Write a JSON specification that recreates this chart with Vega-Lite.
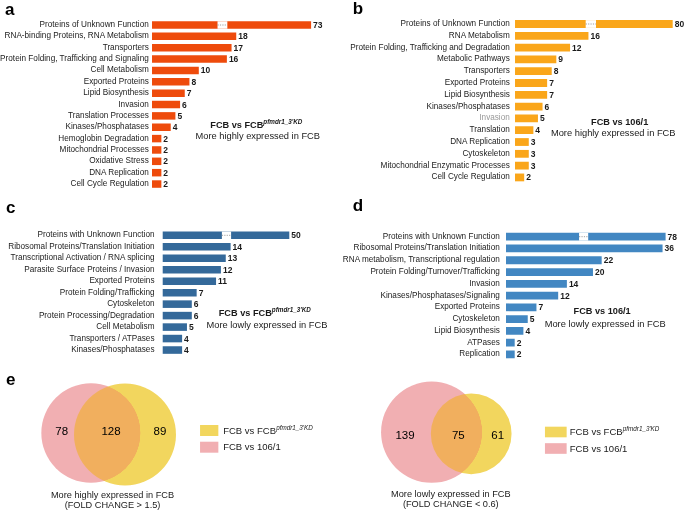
{
 "$schema": "https://vega.github.io/schema/vega-lite/v6.json",
 "autosize": {"type": "none"},
 "padding": {"left": 150, "top": 19.32, "right": 535, "bottom": 490.68},
 "background": "white",
 "config": {"font": "Liberation Sans", "view": {"stroke": null}, "text": {"color": "#1a1a1a"}},
 "columns": 2,
 "spacing": {"row": 39.25, "column": 192},
 "bounds": "flush",
 "align": "each",
 "concat": [
  {
   "width": 161.1, "height": 170.4,
   "title": {"text": "a", "anchor": "start", "frame": "group", "fontSize": 17, "fontWeight": "bold", "color": "#000", "offset": 0, "dx": -145, "dy": -0.5},
   "data": {"values": [
    {"category": "Proteins of Unknown Function", "count": 73, "break_from": 14.0, "break_to": 16.1},
    {"category": "RNA-binding Proteins, RNA Metabolism", "count": 18},
    {"category": "Transporters", "count": 17},
    {"category": "Protein Folding, Trafficking and Signaling", "count": 16},
    {"category": "Cell Metabolism", "count": 10},
    {"category": "Exported Proteins", "count": 8},
    {"category": "Lipid Biosynthesis", "count": 7},
    {"category": "Invasion", "count": 6},
    {"category": "Translation Processes", "count": 5},
    {"category": "Kinases/Phosphatases", "count": 4},
    {"category": "Hemoglobin Degradation", "count": 2},
    {"category": "Mitochondrial Processes", "count": 2},
    {"category": "Oxidative Stress", "count": 2},
    {"category": "DNA Replication", "count": 2},
    {"category": "Cell Cycle Regulation", "count": 2}
   ]},
   "encoding": {"y": {"field": "category", "type": "nominal",
     "scale": {"domain": ["Proteins of Unknown Function", "RNA-binding Proteins, RNA Metabolism", "Transporters", "Protein Folding, Trafficking and Signaling", "Cell Metabolism", "Exported Proteins", "Lipid Biosynthesis", "Invasion", "Translation Processes", "Kinases/Phosphatases", "Hemoglobin Degradation", "Mitochondrial Processes", "Oxidative Stress", "DNA Replication", "Cell Cycle Regulation"], "paddingInner": 0.34, "paddingOuter": 0.17},
     "axis": {"title": null, "ticks": false, "domain": false, "labelFontSize": 8.2, "labelColor": "#222", "labelPadding": 1.7, "labelLimit": 400}}},
   "layer": [
    {"mark": {"type": "bar", "color": "#EE4B0C"}, "encoding": {"x": {"field": "count", "type": "quantitative", "scale": {"domain": [-0.43, 34.0], "clamp": true, "nice": false, "zero": false}, "axis": null}}},
    {"transform": [{"filter": "isValid(datum.break_from)"}], "mark": {"type": "bar", "color": "white"}, "encoding": {"x": {"field": "break_from", "type": "quantitative"}, "x2": {"field": "break_to"}}},
    {"transform": [{"filter": "isValid(datum.break_from)"}], "mark": {"type": "rule", "color": "#888", "strokeDash": [1.2, 1.2], "strokeWidth": 0.8}, "encoding": {"x": {"field": "break_from", "type": "quantitative"}, "x2": {"field": "break_to"}}},
    {"mark": {"type": "text", "align": "left", "baseline": "middle", "dx": 2, "fontSize": 8.5, "fontWeight": "bold"}, "encoding": {"x": {"field": "count", "type": "quantitative"}, "text": {"field": "count"}}},
    {"data": {"values": [{"category": "Kinases/Phosphatases", "at": 23.8, "note": "FCB vs FCB", "sup": "pfmdr1_3'KD"}]},
     "layer": [
      {"mark": {"type": "text", "align": "right", "baseline": "middle", "dy": -2.2, "fontSize": 9.2, "fontWeight": "bold"}, "encoding": {"x": {"field": "at", "type": "quantitative"}, "text": {"field": "note"}}},
      {"mark": {"type": "text", "align": "left", "baseline": "middle", "dy": -5.2, "fontSize": 6.3, "fontWeight": "bold", "fontStyle": "italic"}, "encoding": {"x": {"field": "at", "type": "quantitative"}, "text": {"field": "sup"}}}
     ]},
    {"data": {"values": [{"category": "Hemoglobin Degradation", "at": 22.6, "note": "More highly expressed in FCB"}]},
     "mark": {"type": "text", "align": "center", "baseline": "middle", "dy": -2.6, "fontSize": 9.3}, "encoding": {"x": {"field": "at", "type": "quantitative"}, "text": {"field": "note"}}}
   ]
  },
  {
   "width": 168.7, "height": 162.8,
   "title": {"text": "b", "anchor": "start", "frame": "group", "fontSize": 17, "fontWeight": "bold", "color": "#000", "offset": 0, "dx": -151.3, "dy": -1},
   "data": {"values": [
    {"category": "Proteins of Unknown Function", "count": 80, "break_from": 15.4, "break_to": 17.65},
    {"category": "RNA Metabolism", "count": 16},
    {"category": "Protein Folding, Trafficking and Degradation", "count": 12},
    {"category": "Metabolic Pathways", "count": 9},
    {"category": "Transporters", "count": 8},
    {"category": "Exported Proteins", "count": 7},
    {"category": "Lipid Biosynthesis", "count": 7},
    {"category": "Kinases/Phosphatases", "count": 6},
    {"category": "Invasion", "count": 5},
    {"category": "Translation", "count": 4},
    {"category": "DNA Replication", "count": 3},
    {"category": "Cytoskeleton", "count": 3},
    {"category": "Mitochondrial Enzymatic Processes", "count": 3},
    {"category": "Cell Cycle Regulation", "count": 2}
   ]},
   "encoding": {"y": {"field": "category", "type": "nominal",
     "scale": {"domain": ["Proteins of Unknown Function", "RNA Metabolism", "Protein Folding, Trafficking and Degradation", "Metabolic Pathways", "Transporters", "Exported Proteins", "Lipid Biosynthesis", "Kinases/Phosphatases", "Invasion", "Translation", "DNA Replication", "Cytoskeleton", "Mitochondrial Enzymatic Processes", "Cell Cycle Regulation"], "paddingInner": 0.34, "paddingOuter": 0.067},
     "axis": {"title": null, "ticks": false, "domain": false, "labelFontSize": 8.2, "labelColor": {"condition": {"test": "datum.value === 'Invasion'", "value": "#999"}, "value": "#222"}, "labelPadding": -5.3, "labelLimit": 400}}},
   "layer": [
    {"mark": {"type": "bar", "color": "#FAA61A"}, "encoding": {"x": {"field": "count", "type": "quantitative", "scale": {"domain": [-2.4, 34.36], "clamp": true, "nice": false, "zero": false}, "axis": null}}},
    {"transform": [{"filter": "isValid(datum.break_from)"}], "mark": {"type": "bar", "color": "white"}, "encoding": {"x": {"field": "break_from", "type": "quantitative"}, "x2": {"field": "break_to"}}},
    {"transform": [{"filter": "isValid(datum.break_from)"}], "mark": {"type": "rule", "color": "#888", "strokeDash": [1.2, 1.2], "strokeWidth": 0.8}, "encoding": {"x": {"field": "break_from", "type": "quantitative"}, "x2": {"field": "break_to"}}},
    {"mark": {"type": "text", "align": "left", "baseline": "middle", "dx": 2, "fontSize": 8.5, "fontWeight": "bold"}, "encoding": {"x": {"field": "count", "type": "quantitative"}, "text": {"field": "count"}}},
    {"data": {"values": [{"category": "Invasion", "at": 22.8, "note": "FCB vs 106/1"}]},
     "mark": {"type": "text", "align": "center", "baseline": "middle", "dy": 3.3, "fontSize": 9.2, "fontWeight": "bold"}, "encoding": {"x": {"field": "at", "type": "quantitative"}, "text": {"field": "note"}}},
    {"data": {"values": [{"category": "Translation", "at": 21.4, "note": "More highly expressed in FCB"}]},
     "mark": {"type": "text", "align": "center", "baseline": "middle", "dy": 3.1, "fontSize": 9.3}, "encoding": {"x": {"field": "at", "type": "quantitative"}, "text": {"field": "note"}}}
   ]
  },
  {
   "width": 139.3, "height": 126.2,
   "title": {"text": "c", "anchor": "start", "frame": "group", "fontSize": 17, "fontWeight": "bold", "color": "#000", "offset": 0, "dx": -144, "dy": -12.7},
   "data": {"values": [
    {"category": "Proteins with Unknown Function", "count": 50, "break_from": 12.2, "break_to": 14.1},
    {"category": "Ribosomal Proteins/Translation Initiation", "count": 14},
    {"category": "Transcriptional Activation / RNA splicing", "count": 13},
    {"category": "Parasite Surface Proteins / Invasion", "count": 12},
    {"category": "Exported Proteins", "count": 11},
    {"category": "Protein Folding/Trafficking", "count": 7},
    {"category": "Cytoskeleton", "count": 6},
    {"category": "Protein Processing/Degradation", "count": 6},
    {"category": "Cell Metabolism", "count": 5},
    {"category": "Transporters / ATPases", "count": 4},
    {"category": "Kinases/Phosphatases", "count": 4}
   ]},
   "encoding": {"y": {"field": "category", "type": "nominal",
     "scale": {"domain": ["Proteins with Unknown Function", "Ribosomal Proteins/Translation Initiation", "Transcriptional Activation / RNA splicing", "Parasite Surface Proteins / Invasion", "Exported Proteins", "Protein Folding/Trafficking", "Cytoskeleton", "Protein Processing/Degradation", "Cell Metabolism", "Transporters / ATPases", "Kinases/Phosphatases"], "paddingInner": 0.34, "paddingOuter": 0.17},
     "axis": {"title": null, "ticks": false, "domain": false, "labelFontSize": 8.2, "labelColor": "#222", "labelPadding": -4, "labelLimit": 400}}},
   "layer": [
    {"mark": {"type": "bar", "color": "#34699A"}, "encoding": {"x": {"field": "count", "type": "quantitative", "scale": {"domain": [-2.62, 26.1], "clamp": true, "nice": false, "zero": false}, "axis": null}}},
    {"transform": [{"filter": "isValid(datum.break_from)"}], "mark": {"type": "bar", "color": "white"}, "encoding": {"x": {"field": "break_from", "type": "quantitative"}, "x2": {"field": "break_to"}}},
    {"transform": [{"filter": "isValid(datum.break_from)"}], "mark": {"type": "rule", "color": "#888", "strokeDash": [1.2, 1.2], "strokeWidth": 0.8}, "encoding": {"x": {"field": "break_from", "type": "quantitative"}, "x2": {"field": "break_to"}}},
    {"mark": {"type": "text", "align": "left", "baseline": "middle", "dx": 2, "fontSize": 8.5, "fontWeight": "bold"}, "encoding": {"x": {"field": "count", "type": "quantitative"}, "text": {"field": "count"}}},
    {"data": {"values": [{"category": "Protein Processing/Degradation", "at": 22.5, "note": "FCB vs FCB", "sup": "pfmdr1_3'KD"}]},
     "layer": [
      {"mark": {"type": "text", "align": "right", "baseline": "middle", "dy": -2.3, "fontSize": 9.2, "fontWeight": "bold"}, "encoding": {"x": {"field": "at", "type": "quantitative"}, "text": {"field": "note"}}},
      {"mark": {"type": "text", "align": "left", "baseline": "middle", "dy": -5.3, "fontSize": 6.3, "fontWeight": "bold", "fontStyle": "italic"}, "encoding": {"x": {"field": "at", "type": "quantitative"}, "text": {"field": "sup"}}}
     ]},
    {"data": {"values": [{"category": "Cell Metabolism", "at": 21.5, "note": "More lowly expressed in FCB"}]},
     "mark": {"type": "text", "align": "center", "baseline": "middle", "dy": -1.8, "fontSize": 9.3}, "encoding": {"x": {"field": "at", "type": "quantitative"}, "text": {"field": "note"}}}
   ]
  },
  {
   "width": 161.6, "height": 131.96,
   "title": {"text": "d", "anchor": "start", "frame": "group", "fontSize": 17, "fontWeight": "bold", "color": "#000", "offset": 0, "dx": -151.3, "dy": -15},
   "data": {"values": [
    {"category": "Proteins with Unknown Function", "count": 78, "break_from": 16.8, "break_to": 18.9},
    {"category": "Ribosomal Proteins/Translation Initiation", "count": 36},
    {"category": "RNA metabolism, Transcriptional regulation", "count": 22},
    {"category": "Protein Folding/Turnover/Trafficking", "count": 20},
    {"category": "Invasion", "count": 14},
    {"category": "Kinases/Phosphatases/Signaling", "count": 12},
    {"category": "Exported Proteins", "count": 7},
    {"category": "Cytoskeleton", "count": 5},
    {"category": "Lipid Biosynthesis", "count": 4},
    {"category": "ATPases", "count": 2},
    {"category": "Replication", "count": 2}
   ]},
   "encoding": {"y": {"field": "category", "type": "nominal",
     "scale": {"domain": ["Proteins with Unknown Function", "Ribosomal Proteins/Translation Initiation", "RNA metabolism, Transcriptional regulation", "Protein Folding/Turnover/Trafficking", "Invasion", "Kinases/Phosphatases/Signaling", "Exported Proteins", "Cytoskeleton", "Lipid Biosynthesis", "ATPases", "Replication"], "paddingInner": 0.34, "paddingOuter": 0.276},
     "axis": {"title": null, "ticks": false, "domain": false, "labelFontSize": 8.2, "labelColor": "#222", "labelPadding": 4.7, "labelLimit": 400}}},
   "layer": [
    {"mark": {"type": "bar", "color": "#4287C2"}, "encoding": {"x": {"field": "count", "type": "quantitative", "scale": {"domain": [-0.46, 36.7], "clamp": true, "nice": false, "zero": false}, "axis": null}}},
    {"transform": [{"filter": "isValid(datum.break_from)"}], "mark": {"type": "bar", "color": "white"}, "encoding": {"x": {"field": "break_from", "type": "quantitative"}, "x2": {"field": "break_to"}}},
    {"transform": [{"filter": "isValid(datum.break_from)"}], "mark": {"type": "rule", "color": "#888", "strokeDash": [1.2, 1.2], "strokeWidth": 0.8}, "encoding": {"x": {"field": "break_from", "type": "quantitative"}, "x2": {"field": "break_to"}}},
    {"mark": {"type": "text", "align": "left", "baseline": "middle", "dx": 2, "fontSize": 8.5, "fontWeight": "bold"}, "encoding": {"x": {"field": "count", "type": "quantitative"}, "text": {"field": "count"}}},
    {"data": {"values": [{"category": "Exported Proteins", "at": 22.1, "note": "FCB vs 106/1"}]},
     "mark": {"type": "text", "align": "center", "baseline": "middle", "dy": 3.2, "fontSize": 9.2, "fontWeight": "bold"}, "encoding": {"x": {"field": "at", "type": "quantitative"}, "text": {"field": "note"}}},
    {"data": {"values": [{"category": "Cytoskeleton", "at": 22.8, "note": "More lowly expressed in FCB"}]},
     "mark": {"type": "text", "align": "center", "baseline": "middle", "dy": 4.7, "fontSize": 9.3}, "encoding": {"x": {"field": "at", "type": "quantitative"}, "text": {"field": "note"}}}
   ]
  },
  {
   "width": 150, "height": 109,
   "layer": [
    {"data": {"values": [
      {"set": "FCB vs 106/1", "total": 206, "cx": -1.7, "cy": 0.0},
      {"set": "FCB vs FCB pfmdr1_3'KD", "total": 217, "cx": 1.7, "cy": -0.15}
     ]},
     "mark": {"type": "point", "shape": "circle", "filled": true, "opacity": 1, "blend": "darken", "strokeWidth": 0},
     "encoding": {
      "x": {"field": "cx", "type": "quantitative", "scale": {"domain": [4.2, 19.2], "nice": false, "zero": false}, "axis": null},
      "y": {"field": "cy", "type": "quantitative", "scale": {"domain": [-7.682, 3.218], "nice": false, "zero": false}, "axis": null},
      "size": {"field": "total", "type": "quantitative", "scale": {"domain": [0, 217], "range": [0, 10400]}, "legend": null},
      "color": {"field": "set", "type": "nominal", "scale": {"domain": ["FCB vs FCB pfmdr1_3'KD", "FCB vs 106/1"], "range": ["#F2D65E", "#F1AFB2"]}, "legend": null}
     }},
    {"data": {"values": [{"panel": "e", "px": -10.2, "py": 4.8}]},
     "mark": {"type": "text", "fontSize": 17, "fontWeight": "bold", "align": "left", "baseline": "alphabetic", "color": "#000"},
     "encoding": {"x": {"field": "px", "type": "quantitative"}, "y": {"field": "py", "type": "quantitative"}, "text": {"field": "panel"}}},
    {"data": {"values": [{"count": 78, "rx": -4.63, "ry": 0.15}, {"count": 128, "rx": 0.3, "ry": 0.15}, {"count": 89, "rx": 5.2, "ry": 0.15}]},
     "mark": {"type": "text", "fontSize": 11.5, "align": "center", "baseline": "middle", "color": "#000"},
     "encoding": {"x": {"field": "rx", "type": "quantitative"}, "y": {"field": "ry", "type": "quantitative"}, "text": {"field": "count"}}},
    {"data": {"values": [{"line": "More highly expressed in FCB", "tx": 0.45, "ty": -6.15}, {"line": "(FOLD CHANGE > 1.5)", "tx": 0.45, "ty": -7.15}]},
     "mark": {"type": "text", "fontSize": 9.2, "align": "center", "baseline": "middle"},
     "encoding": {"x": {"field": "tx", "type": "quantitative"}, "y": {"field": "ty", "type": "quantitative"}, "text": {"field": "line"}}},
    {"data": {"values": [
      {"set": "FCB vs FCB pfmdr1_3'KD", "label": "FCB vs FCB", "sup": "pfmdr1_3'KD", "lx": 10.12, "ly": 0.25},
      {"set": "FCB vs 106/1", "label": "FCB vs 106/1", "sup": "", "lx": 10.12, "ly": -1.42}
     ]},
     "layer": [
      {"mark": {"type": "point", "shape": "M-1,-0.6H1V0.6H-1Z", "filled": true, "opacity": 1, "size": 335, "strokeWidth": 0},
       "encoding": {"x": {"field": "lx", "type": "quantitative"}, "y": {"field": "ly", "type": "quantitative"}, "color": {"field": "set", "type": "nominal", "legend": null}}},
      {"mark": {"type": "text", "align": "left", "baseline": "middle", "dx": 14, "fontSize": 9.5},
       "encoding": {"x": {"field": "lx", "type": "quantitative"}, "y": {"field": "ly", "type": "quantitative"}, "text": {"field": "label"}}},
      {"mark": {"type": "text", "align": "left", "baseline": "middle", "dx": 67, "dy": -3, "fontSize": 6.3, "fontStyle": "italic"},
       "encoding": {"x": {"field": "lx", "type": "quantitative"}, "y": {"field": "ly", "type": "quantitative"}, "text": {"field": "sup"}}}
     ]}
   ]
  },
  {
   "width": 150, "height": 109,
   "layer": [
    {"data": {"values": [
      {"set": "FCB vs 106/1", "total": 214, "cx": -1.93, "cy": 0.08},
      {"set": "FCB vs FCB pfmdr1_3'KD", "total": 136, "cx": 2.02, "cy": -0.08}
     ]},
     "mark": {"type": "point", "shape": "circle", "filled": true, "opacity": 1, "blend": "darken", "strokeWidth": 0},
     "encoding": {
      "x": {"field": "cx", "type": "quantitative", "scale": {"domain": [5.3, 20.3], "nice": false, "zero": false}, "axis": null},
      "y": {"field": "cy", "type": "quantitative", "scale": {"domain": [-7.682, 3.218], "nice": false, "zero": false}, "axis": null},
      "size": {"field": "total", "type": "quantitative", "scale": {"domain": [0, 217], "range": [0, 10400]}, "legend": null},
      "color": {"field": "set", "type": "nominal", "scale": {"domain": ["FCB vs FCB pfmdr1_3'KD", "FCB vs 106/1"], "range": ["#F2D65E", "#F1AFB2"]}, "legend": null}
     }},
    {"data": {"values": [{"count": 139, "rx": -4.6, "ry": -0.3}, {"count": 75, "rx": 0.73, "ry": -0.3}, {"count": 61, "rx": 4.67, "ry": -0.3}]},
     "mark": {"type": "text", "fontSize": 11.5, "align": "center", "baseline": "middle", "color": "#000"},
     "encoding": {"x": {"field": "rx", "type": "quantitative"}, "y": {"field": "ry", "type": "quantitative"}, "text": {"field": "count"}}},
    {"data": {"values": [{"line": "More lowly expressed in FCB", "tx": -0.02, "ty": -6.1}, {"line": "(FOLD CHANGE < 0.6)", "tx": -0.02, "ty": -7.1}]},
     "mark": {"type": "text", "fontSize": 9.2, "align": "center", "baseline": "middle"},
     "encoding": {"x": {"field": "tx", "type": "quantitative"}, "y": {"field": "ty", "type": "quantitative"}, "text": {"field": "line"}}},
    {"data": {"values": [
      {"set": "FCB vs FCB pfmdr1_3'KD", "label": "FCB vs FCB", "sup": "pfmdr1_3'KD", "lx": 10.48, "ly": 0.1},
      {"set": "FCB vs 106/1", "label": "FCB vs 106/1", "sup": "", "lx": 10.48, "ly": -1.55}
     ]},
     "layer": [
      {"mark": {"type": "point", "shape": "M-1,-0.49H1V0.49H-1Z", "filled": true, "opacity": 1, "size": 471, "strokeWidth": 0},
       "encoding": {"x": {"field": "lx", "type": "quantitative"}, "y": {"field": "ly", "type": "quantitative"}, "color": {"field": "set", "type": "nominal", "legend": null}}},
      {"mark": {"type": "text", "align": "left", "baseline": "middle", "dx": 14, "fontSize": 9.5},
       "encoding": {"x": {"field": "lx", "type": "quantitative"}, "y": {"field": "ly", "type": "quantitative"}, "text": {"field": "label"}}},
      {"mark": {"type": "text", "align": "left", "baseline": "middle", "dx": 67, "dy": -3, "fontSize": 6.3, "fontStyle": "italic"},
       "encoding": {"x": {"field": "lx", "type": "quantitative"}, "y": {"field": "ly", "type": "quantitative"}, "text": {"field": "sup"}}}
     ]}
   ]
  }
 ]
}
